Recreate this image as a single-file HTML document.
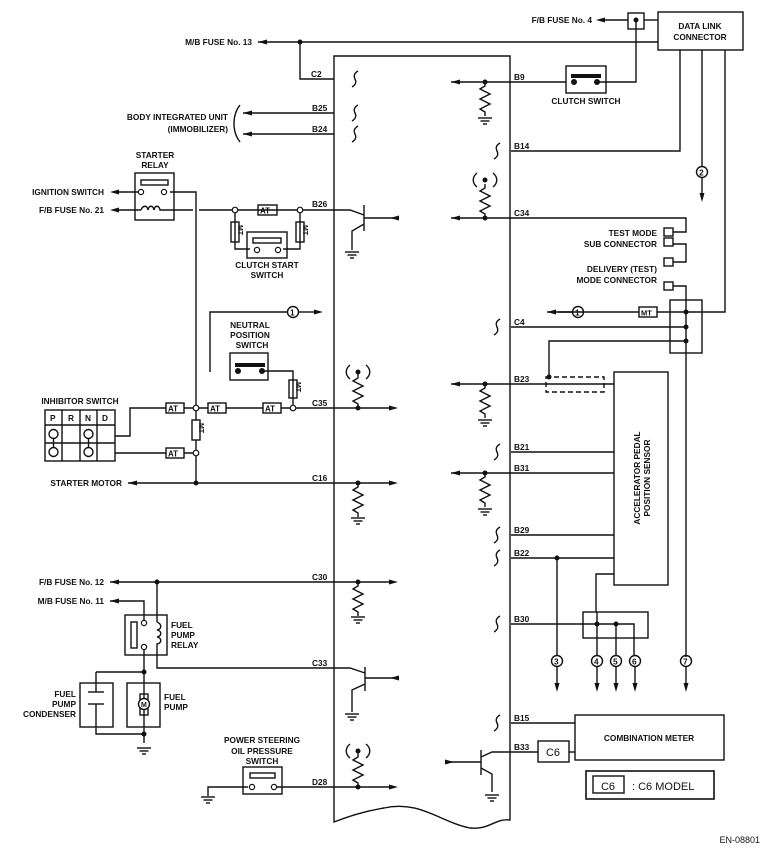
<!DOCTYPE html>
<html><head><meta charset="utf-8"><style>
html,body{margin:0;padding:0;background:#fff;}
svg{display:block;}
text{font-family:"Liberation Sans",Arial,sans-serif;font-weight:bold;font-size:8.3px;fill:#111;}
.n{font-weight:normal;}
</style></head><body>
<svg width="769" height="853" viewBox="0 0 769 853" xmlns="http://www.w3.org/2000/svg">
<defs>
<g id="gnd"><line x1="-7" y1="0" x2="7" y2="0"/><line x1="-4.5" y1="3" x2="4.5" y2="3"/><line x1="-2" y1="6" x2="2" y2="6"/></g>
<g id="res"><polyline points="0,0 0,4 -5,7 5,12 -5,17 5,22 -5,27 0,30 0,34" fill="none"/></g>
<g id="sq"><path d="M3,-8 C-2,-5 -1,-2 0,0 C1,2 2,5 -3,8" fill="none"/></g>
<g id="br"><path d="M-8,-7 C-13,-3 -13,3 -8,7 M8,-7 C13,-3 13,3 8,7" fill="none"/></g>
</defs>
<g stroke="#111" stroke-width="1.4" fill="none">
<path d="M334,56 L510,56 L510,820 C495,818 490,830 470,828 C440,822 420,800 384,808 C360,812 345,818 334,822 Z"/>
<line x1="258" y1="42" x2="658" y2="42"/>
<polyline points="300,42 300,79 334,79"/>
<line x1="243" y1="113" x2="334" y2="113"/>
<line x1="243" y1="134" x2="334" y2="134"/>
<path d="M240,105 C232,115 232,132 240,142"/>
<rect x="135" y="173" width="39" height="47"/>
<rect x="141" y="180" width="27" height="5"/>
<line x1="118" y1="192" x2="140" y2="192"/>
<line x1="118" y1="210" x2="141" y2="210"/>
<path d="M141,210 C143,205 147,205 148,210 C149,205 153,205 154,210 C155,205 159,205 160,210 L170,210"/>
<polyline points="170,192 196,192 196,483"/>
<line x1="170" y1="210" x2="193" y2="210"/>
<line x1="199" y1="210" x2="333" y2="210"/>
<rect x="258" y="205" width="19" height="10"/>
<polyline points="235,213 235,249 250,249"/>
<polyline points="300,213 300,249 283,249"/>
<rect x="231" y="222" width="8" height="20"/>
<rect x="296" y="222" width="8" height="20"/>
<rect x="247" y="232" width="40" height="26"/>
<rect x="253" y="238" width="28" height="5"/>
<polyline points="333,210 350,210 364,215"/>
<line x1="364" y1="205" x2="364" y2="231"/>
<line x1="364" y1="218" x2="398" y2="218"/>
<polyline points="364,224 352,231 352,250"/>
<polyline points="210,372 210,312 288,312"/>
<line x1="298" y1="312" x2="314" y2="312"/>
<rect x="230" y="353" width="38" height="27"/>
<polyline points="262,371 293,371 293,405"/>
<rect x="289" y="380" width="8" height="18"/>
<line x1="199" y1="408" x2="290" y2="408"/>
<line x1="296" y1="408" x2="392" y2="408"/>
<polyline points="115,436 130,436 130,408 193,408"/>
<line x1="115" y1="453" x2="193" y2="453"/>
<rect x="166" y="403" width="18" height="10" fill="#fff"/>
<rect x="208" y="403" width="18" height="10" fill="#fff"/>
<rect x="263" y="403" width="18" height="10" fill="#fff"/>
<rect x="166" y="448" width="18" height="10" fill="#fff"/>
<rect x="192" y="420" width="8" height="20" fill="#fff"/>
<rect x="45" y="410" width="70" height="51"/>
<line x1="45" y1="425" x2="115" y2="425"/><line x1="45" y1="443" x2="115" y2="443"/>
<line x1="62" y1="410" x2="62" y2="461"/><line x1="80" y1="410" x2="80" y2="461"/><line x1="97" y1="410" x2="97" y2="461"/>
<circle cx="53.5" cy="434" r="4.5"/><circle cx="53.5" cy="452" r="4.5"/><line x1="53.5" y1="438" x2="53.5" y2="448"/>
<circle cx="88.5" cy="434" r="4.5"/><circle cx="88.5" cy="452" r="4.5"/><line x1="88.5" y1="438" x2="88.5" y2="448"/>
<line x1="128" y1="483" x2="392" y2="483"/>
<use href="#res" x="358" y="374"/><use href="#br" x="358" y="372"/>
<use href="#res" x="358" y="483"/><use href="#gnd" x="358" y="518"/>
<use href="#res" x="358" y="582"/><use href="#gnd" x="358" y="617"/>
<use href="#res" x="358" y="753"/><use href="#br" x="358" y="751"/>
<use href="#sq" x="355" y="79"/><use href="#sq" x="355" y="113"/><use href="#sq" x="355" y="134"/>
<line x1="110" y1="582" x2="392" y2="582"/>
<polyline points="110,601 144,601 144,620"/>
<polyline points="157,582 157,622"/>
<rect x="125" y="615" width="42" height="40"/>
<rect x="131" y="622" width="6" height="26"/>
<path d="M157,622 C162,624 162,629 157,630 C162,631 162,636 157,637 C162,638 162,643 157,644 L157,668 L350,668 L365,673"/>
<line x1="365" y1="667" x2="365" y2="691"/>
<line x1="365" y1="678" x2="398" y2="678"/>
<polyline points="365,684 352,690 352,712"/>
<polyline points="144,650 144,672"/>
<polyline points="96,672 144,672 144,733"/>
<polyline points="96,672 96,692"/><polyline points="96,704 96,734 144,734 144,743"/>
<line x1="88" y1="692" x2="104" y2="692"/><line x1="88" y1="704" x2="104" y2="704"/>
<rect x="80" y="683" width="33" height="44"/>
<rect x="127" y="683" width="33" height="44"/>
<rect x="140" y="694" width="8" height="21"/><circle cx="144" cy="704" r="5.5" fill="#fff"/>
<rect x="243" y="767" width="39" height="27"/>
<rect x="250" y="773" width="25" height="5"/>
<polyline points="208,796 208,787 248,787"/>
<line x1="277" y1="787" x2="392" y2="787"/>
<line x1="451" y1="82" x2="566" y2="82"/>
<rect x="566" y="66" width="40" height="27"/>
<polyline points="597,82 636,82 636,20"/>
<rect x="628" y="13" width="16" height="16"/>
<line x1="604" y1="20" x2="628" y2="20"/>
<line x1="644" y1="20" x2="658" y2="20"/>
<rect x="658" y="12" width="85" height="38"/>
<polyline points="680,50 680,151 511,151"/>
<line x1="702" y1="50" x2="702" y2="167"/><line x1="702" y1="177" x2="702" y2="194"/>
<polyline points="725,50 725,312 686,312"/>
<use href="#res" x="485" y="82"/><use href="#gnd" x="485" y="118"/>
<use href="#res" x="485" y="184"/><use href="#br" x="485" y="180"/>
<polyline points="451,218 686,218 686,232 673,232"/>
<polyline points="673,244 686,244 686,262 673,262"/>
<rect x="664" y="228" width="9" height="8"/><rect x="664" y="238" width="9" height="8"/>
<rect x="664" y="258" width="9" height="8"/><rect x="664" y="282" width="9" height="8"/>
<polyline points="673,286 686,286 686,300"/>
<rect x="670" y="300" width="32" height="53"/>
<line x1="686" y1="300" x2="686" y2="657"/><line x1="686" y1="667" x2="686" y2="684"/>
<line x1="558" y1="312" x2="686" y2="312"/><line x1="547" y1="312" x2="573" y2="312"/>
<rect x="639" y="307" width="18" height="10" fill="#fff"/>
<line x1="511" y1="327" x2="686" y2="327"/>
<polyline points="686,341 549,341 549,377"/>
<line x1="451" y1="384" x2="614" y2="384"/>
<rect x="546" y="377" width="58" height="15" stroke-dasharray="5,3"/>
<use href="#res" x="485" y="384"/><use href="#gnd" x="485" y="420"/>
<rect x="614" y="372" width="54" height="213"/>
<line x1="511" y1="452" x2="614" y2="452"/>
<line x1="451" y1="473" x2="614" y2="473"/>
<use href="#res" x="485" y="473"/><use href="#gnd" x="485" y="509"/>
<line x1="511" y1="535" x2="614" y2="535"/>
<line x1="511" y1="558" x2="614" y2="558"/>
<line x1="557" y1="558" x2="557" y2="655"/><line x1="557" y1="667" x2="557" y2="684"/>
<polyline points="614,574 596,574 596,612"/>
<rect x="583" y="612" width="65" height="26"/>
<polyline points="511,624 634,624 634,655"/>
<line x1="597" y1="612" x2="597" y2="655"/>
<line x1="616" y1="624" x2="616" y2="655"/>
<line x1="597" y1="667" x2="597" y2="684"/><line x1="616" y1="667" x2="616" y2="684"/><line x1="635" y1="667" x2="635" y2="684"/>
<use href="#sq" x="497" y="151"/><use href="#sq" x="497" y="327"/><use href="#sq" x="497" y="452"/><use href="#sq" x="497" y="535"/><use href="#sq" x="497" y="558"/><use href="#sq" x="497" y="624"/><use href="#sq" x="497" y="723"/>
<line x1="511" y1="723" x2="575" y2="723"/>
<rect x="575" y="715" width="149" height="45"/>
<polyline points="481,757 492,752 538,752"/>
<rect x="538" y="741" width="31" height="21"/>
<line x1="569" y1="752" x2="575" y2="752"/>
<line x1="481" y1="750" x2="481" y2="775"/>
<line x1="445" y1="762" x2="481" y2="762"/>
<polyline points="481,768 492,774 492,792"/><use href="#gnd" x="492" y="795"/>
<rect x="586" y="771" width="128" height="28" stroke-width="1.6"/>
<rect x="593" y="776" width="31" height="17"/>
<use href="#gnd" x="352" y="252"/><use href="#gnd" x="352" y="714"/><use href="#gnd" x="144" y="748"/><use href="#gnd" x="208" y="797"/>
<circle cx="293" cy="312" r="5.5"/><circle cx="578" cy="312" r="5.5"/><circle cx="702" cy="172" r="5.5"/>
<circle cx="557" cy="661" r="5.5"/><circle cx="597" cy="661" r="5.5"/><circle cx="616" cy="661" r="5.5"/><circle cx="635" cy="661" r="5.5"/><circle cx="686" cy="661" r="5.5"/>
</g>
<g stroke="#111" stroke-width="1.2" fill="#fff">
<circle cx="235" cy="210" r="2.8"/><circle cx="300" cy="210" r="2.8"/>
<circle cx="196" cy="408" r="2.8"/><circle cx="293" cy="408" r="2.8"/><circle cx="196" cy="453" r="2.8"/>
<circle cx="141" cy="192" r="2.6"/><circle cx="164" cy="192" r="2.6"/>
<circle cx="257" cy="250" r="2.6"/><circle cx="278" cy="250" r="2.6"/>
<circle cx="144" cy="623" r="2.6"/><circle cx="144" cy="647" r="2.6"/>
<circle cx="252" cy="787" r="2.6"/><circle cx="274" cy="787" r="2.6"/>
</g>
<g fill="#111">
<circle cx="300" cy="42" r="2.5"/><circle cx="636" cy="20" r="2.5"/><circle cx="485" cy="82" r="2.5"/><circle cx="485" cy="180" r="2.5"/><circle cx="485" cy="218" r="2.5"/>
<circle cx="686" cy="312" r="2.5"/><circle cx="686" cy="327" r="2.5"/><circle cx="686" cy="341" r="2.5"/><circle cx="549" cy="377" r="2.5"/>
<circle cx="485" cy="384" r="2.5"/><circle cx="485" cy="473" r="2.5"/><circle cx="557" cy="558" r="2.5"/><circle cx="597" cy="624" r="2.5"/><circle cx="616" cy="624" r="2.5"/>
<circle cx="196" cy="483" r="2.5"/><circle cx="358" cy="372" r="2.5"/><circle cx="358" cy="408" r="2.5"/><circle cx="358" cy="483" r="2.5"/><circle cx="358" cy="582" r="2.5"/><circle cx="358" cy="751" r="2.5"/><circle cx="358" cy="787" r="2.5"/>
<circle cx="157" cy="582" r="2.5"/><circle cx="144" cy="672" r="2.5"/><circle cx="144" cy="734" r="2.5"/>
<rect x="571" y="74" width="30" height="4"/><circle cx="574" cy="82" r="3"/><circle cx="597" cy="82" r="3"/>
<rect x="235" y="363" width="30" height="4"/><circle cx="238" cy="371" r="3"/><circle cx="262" cy="371" r="3"/>
<polygon points="258,42 267,39.5 267,44.5"/><polygon points="243,113 252,110.5 252,115.5"/><polygon points="243,134 252,131.5 252,136.5"/>
<polygon points="110,192 119,189.5 119,194.5"/><polygon points="110,210 119,207.5 119,212.5"/><polygon points="128,483 137,480.5 137,485.5"/>
<polygon points="110,582 119,579.5 119,584.5"/><polygon points="110,601 119,598.5 119,603.5"/><polygon points="596,20 605,17.5 605,22.5"/>
<polygon points="451,82 460,79.5 460,84.5"/><polygon points="451,218 460,215.5 460,220.5"/><polygon points="451,384 460,381.5 460,386.5"/><polygon points="451,473 460,470.5 460,475.5"/>
<polygon points="547,312 556,309.5 556,314.5"/>
<polygon points="390,218 399,215.5 399,220.5"/><polygon points="390,678 399,675.5 399,680.5"/>
<polygon points="323,312 314,309.5 314,314.5"/><polygon points="398,408 389,405.5 389,410.5"/><polygon points="398,483 389,480.5 389,485.5"/><polygon points="398,582 389,579.5 389,584.5"/><polygon points="398,787 389,784.5 389,789.5"/>
<polygon points="454,762 445,759.5 445,764.5"/>
<polygon points="702,202 699.5,193 704.5,193"/>
<polygon points="557,692 554.5,683 559.5,683"/><polygon points="597,692 594.5,683 599.5,683"/><polygon points="616,692 613.5,683 618.5,683"/><polygon points="635,692 632.5,683 637.5,683"/><polygon points="686,692 683.5,683 688.5,683"/>
</g>
<g>
<text x="260" y="213.5" style="font-size:8px">AT</text>
<text x="168" y="411.5" style="font-size:8px">AT</text><text x="210" y="411.5" style="font-size:8px">AT</text><text x="265" y="411.5" style="font-size:8px">AT</text><text x="168" y="456.5" style="font-size:8px">AT</text>
<text x="641" y="315.5" style="font-size:7.5px">MT</text>
<text transform="translate(238,225) rotate(90)" style="font-size:7px">MT</text>
<text transform="translate(303,225) rotate(90)" style="font-size:7px">MT</text>
<text transform="translate(296,382) rotate(90)" style="font-size:7px">MT</text>
<text transform="translate(199,423) rotate(90)" style="font-size:7px">MT</text>
</g>
<g style="font-size:9px">
<text x="290" y="315.5">1</text><text x="575" y="315.5">1</text><text x="699" y="175.5">2</text>
<text x="554" y="664.5">3</text><text x="594" y="664.5">4</text><text x="613" y="664.5">5</text><text x="632" y="664.5">6</text><text x="683" y="664.5">7</text>
</g>
<text x="252" y="45" text-anchor="end">M/B FUSE No. 13</text>
<text x="311" y="77">C2</text>
<text x="312" y="111">B25</text><text x="312" y="132">B24</text>
<text x="228" y="120" text-anchor="end">BODY INTEGRATED UNIT</text>
<text x="228" y="132" text-anchor="end">(IMMOBILIZER)</text>
<text x="155" y="158" text-anchor="middle">STARTER</text><text x="155" y="168" text-anchor="middle">RELAY</text>
<text x="104" y="195" text-anchor="end">IGNITION SWITCH</text>
<text x="104" y="213" text-anchor="end">F/B FUSE No. 21</text>
<text x="312" y="207">B26</text>
<text x="267" y="268" text-anchor="middle">CLUTCH START</text><text x="267" y="278" text-anchor="middle">SWITCH</text>
<text x="250" y="328" text-anchor="middle">NEUTRAL</text><text x="250" y="338" text-anchor="middle">POSITION</text><text x="252" y="348" text-anchor="middle">SWITCH</text>
<text x="80" y="404" text-anchor="middle">INHIBITOR SWITCH</text>
<text x="50" y="421">P</text><text x="68" y="421">R</text><text x="85" y="421">N</text><text x="102" y="421">D</text>
<text x="312" y="406">C35</text>
<text x="122" y="486" text-anchor="end">STARTER MOTOR</text>
<text x="312" y="481">C16</text>
<text x="104" y="585" text-anchor="end">F/B FUSE No. 12</text>
<text x="104" y="604" text-anchor="end">M/B FUSE No. 11</text>
<text x="312" y="580">C30</text>
<text x="171" y="628">FUEL</text><text x="171" y="638">PUMP</text><text x="171" y="648">RELAY</text>
<text x="312" y="666">C33</text>
<text x="76" y="697" text-anchor="end">FUEL</text><text x="76" y="707" text-anchor="end">PUMP</text><text x="76" y="717" text-anchor="end">CONDENSER</text>
<text x="164" y="700">FUEL</text><text x="164" y="710">PUMP</text>
<text x="262" y="743" text-anchor="middle">POWER STEERING</text><text x="262" y="754" text-anchor="middle">OIL PRESSURE</text><text x="262" y="764" text-anchor="middle">SWITCH</text>
<text x="312" y="785">D28</text>
<text x="141" y="707" style="font-size:7px">M</text>
<text x="592" y="23" text-anchor="end">F/B FUSE No. 4</text>
<text x="700" y="29" text-anchor="middle">DATA LINK</text><text x="700" y="40" text-anchor="middle">CONNECTOR</text>
<text x="514" y="80">B9</text>
<text x="586" y="104" text-anchor="middle">CLUTCH SWITCH</text>
<text x="514" y="149">B14</text>
<text x="514" y="216">C34</text>
<text x="657" y="236" text-anchor="end">TEST MODE</text><text x="657" y="247" text-anchor="end">SUB CONNECTOR</text>
<text x="657" y="272" text-anchor="end">DELIVERY (TEST)</text><text x="657" y="283" text-anchor="end">MODE CONNECTOR</text>
<text x="514" y="325">C4</text>
<text x="514" y="382">B23</text>
<text x="514" y="450">B21</text><text x="514" y="471">B31</text>
<text x="514" y="533">B29</text><text x="514" y="556">B22</text>
<text x="514" y="622">B30</text>
<text x="514" y="721">B15</text><text x="514" y="750">B33</text>
<text transform="translate(640,478) rotate(-90)" text-anchor="middle">ACCELERATOR PEDAL</text>
<text transform="translate(650,478) rotate(-90)" text-anchor="middle">POSITION SENSOR</text>
<text x="649" y="741" text-anchor="middle">COMBINATION METER</text>
<text x="553" y="756" text-anchor="middle" class="n" style="font-size:11px">C6</text>
<text x="608" y="790" text-anchor="middle" class="n" style="font-size:11px">C6</text>
<text x="632" y="790" class="n" style="font-size:11px">: C6 MODEL</text>
<text x="760" y="843" text-anchor="end" class="n" style="font-size:9px">EN-08801</text>
</svg>
</body></html>
